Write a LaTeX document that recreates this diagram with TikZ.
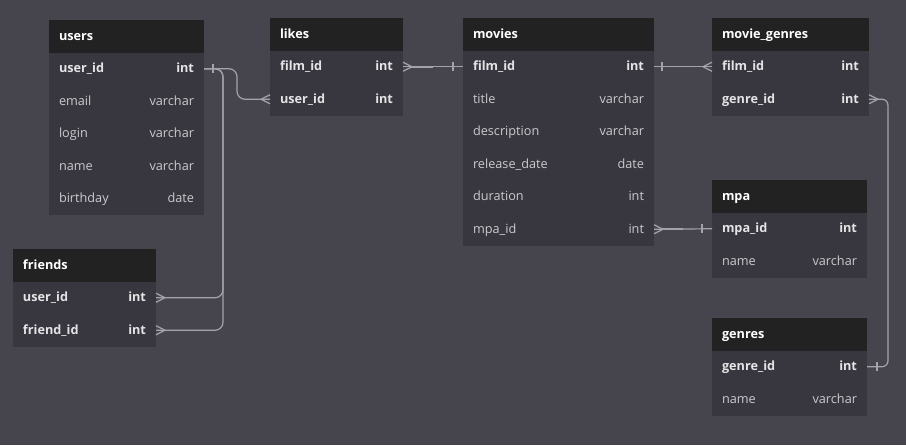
\documentclass[tikz,border=0pt]{standalone}
\usepackage{fontspec}
\setmainfont{Open Sans}
\usetikzlibrary{calc}
\definecolor{bgc}{HTML}{46454E}
\definecolor{bodyc}{HTML}{38373F}
\definecolor{hdrc}{HTML}{222222}
\definecolor{linec}{HTML}{A3A3AB}
\definecolor{txtb}{HTML}{E4E4E6}
\definecolor{txtr}{HTML}{CACACE}
\tikzset{
  cell/.style={anchor=north west, inner xsep=10pt, inner ysep=0pt, outer sep=0pt,
    minimum height=32.5pt, text height=10pt, text depth=2pt, align=left,
    font=\fontsize{12.7}{15}\selectfont},
  hdr/.style={cell, fill=hdrc, text=white, font=\fontsize{12.7}{15}\selectfont\bfseries},
  pk/.style={fill=bodyc, text=txtb, font=\fontsize{12.7}{15}\selectfont\bfseries},
  reg/.style={fill=bodyc, text=txtr},
  conn/.style={draw=linec, line width=1.2pt},
  crowin/.pic={\draw[conn] (-9,0) -- (0,-4.5) (-9,0) -- (0,4.5);},
  crowout/.pic={\draw[conn] (9,0) -- (0,-4.5) (9,0) -- (0,4.5);},
  barmark/.pic={\draw[conn] (0,-4.5) -- (0,4.5);},
}
\newcommand\erTable[6]{%
  \pgfmathsetmacro{\tw}{#4-20}%
  \node[hdr, minimum width=#4pt, text width=\tw pt] (#1-h) at (#2,#3) {#5};
  \foreach \s/\l/\r [count=\i] in {#6}{
    \node[cell, \s, minimum width=#4pt, text width=\tw pt] (#1-\i) at (#2,{#3+32.5*\i}) {\l\hfill\r};
  }
}
\begin{document}
\begin{tikzpicture}[x=1pt,y=-1pt]
\fill[bgc] (0,0) rectangle (906,445);
\useasboundingbox (0,0) rectangle (906,445);

\erTable{users}{49}{20}{155}{users}{pk/user\_id/int, reg/email/varchar, reg/login/varchar, reg/name/varchar, reg/birthday/date}
\erTable{likes}{270}{18}{133}{likes}{pk/film\_id/int, pk/user\_id/int}
\erTable{movies}{463}{18}{191}{movies}{pk/film\_id/int, reg/title/varchar, reg/description/varchar, reg/release\_date/date, reg/duration/int, reg/mpa\_id/int}
\erTable{mg}{712}{18}{157}{movie\_genres}{pk/film\_id/int, pk/genre\_id/int}
\erTable{mpa}{712}{180}{155}{mpa}{pk/mpa\_id/int, reg/name/varchar}
\erTable{genres}{712}{318}{155}{genres}{pk/genre\_id/int, reg/name/varchar}
\erTable{friends}{13}{249}{143}{friends}{pk/user\_id/int, pk/friend\_id/int}

% connectors
\draw[conn, rounded corners=8pt] (users-1.east) -- ++(33,0) |- (likes-2.west);
\draw[conn, rounded corners=8pt] (users-1.east) -- ++(19,0) |- (friends-1.east);
\draw[conn, rounded corners=8pt] (users-1.east) -- ++(19,0) |- (friends-2.east);
\draw[conn] (likes-1.east) -- (movies-1.west);
\draw[conn] (movies-1.east) -- (mg-1.west);
\draw[conn, rounded corners=6pt] (mg-2.east) -- ++(19,0) |- (genres-1.east);
\draw[conn] (movies-6.east) -- (mpa-1.west);

% thick segments near crow's feet
\draw[conn, line width=2.2pt] ($(likes-1.east)+(8,0)$) -- ($(likes-1.east)+(30,0)$);
\draw[conn, line width=2.2pt] ($(movies-6.east)+(8,0)$) -- ($(movies-6.east)+(29,0)$);

% end marks
\pic at ($(users-1.east)+(9,0)$) {barmark};
\pic at (likes-2.west) {crowin};
\pic at (friends-1.east) {crowout};
\pic at (friends-2.east) {crowout};
\pic at (likes-1.east) {crowout};
\pic at ($(movies-1.west)+(-10,0)$) {barmark};
\pic at ($(movies-1.east)+(8,0)$) {barmark};
\pic at (mg-1.west) {crowin};
\pic at (mg-2.east) {crowout};
\pic at ($(genres-1.east)+(10,0)$) {barmark};
\pic at (movies-6.east) {crowout};
\pic at ($(mpa-1.west)+(-10,0)$) {barmark};
\end{tikzpicture}
\end{document}
